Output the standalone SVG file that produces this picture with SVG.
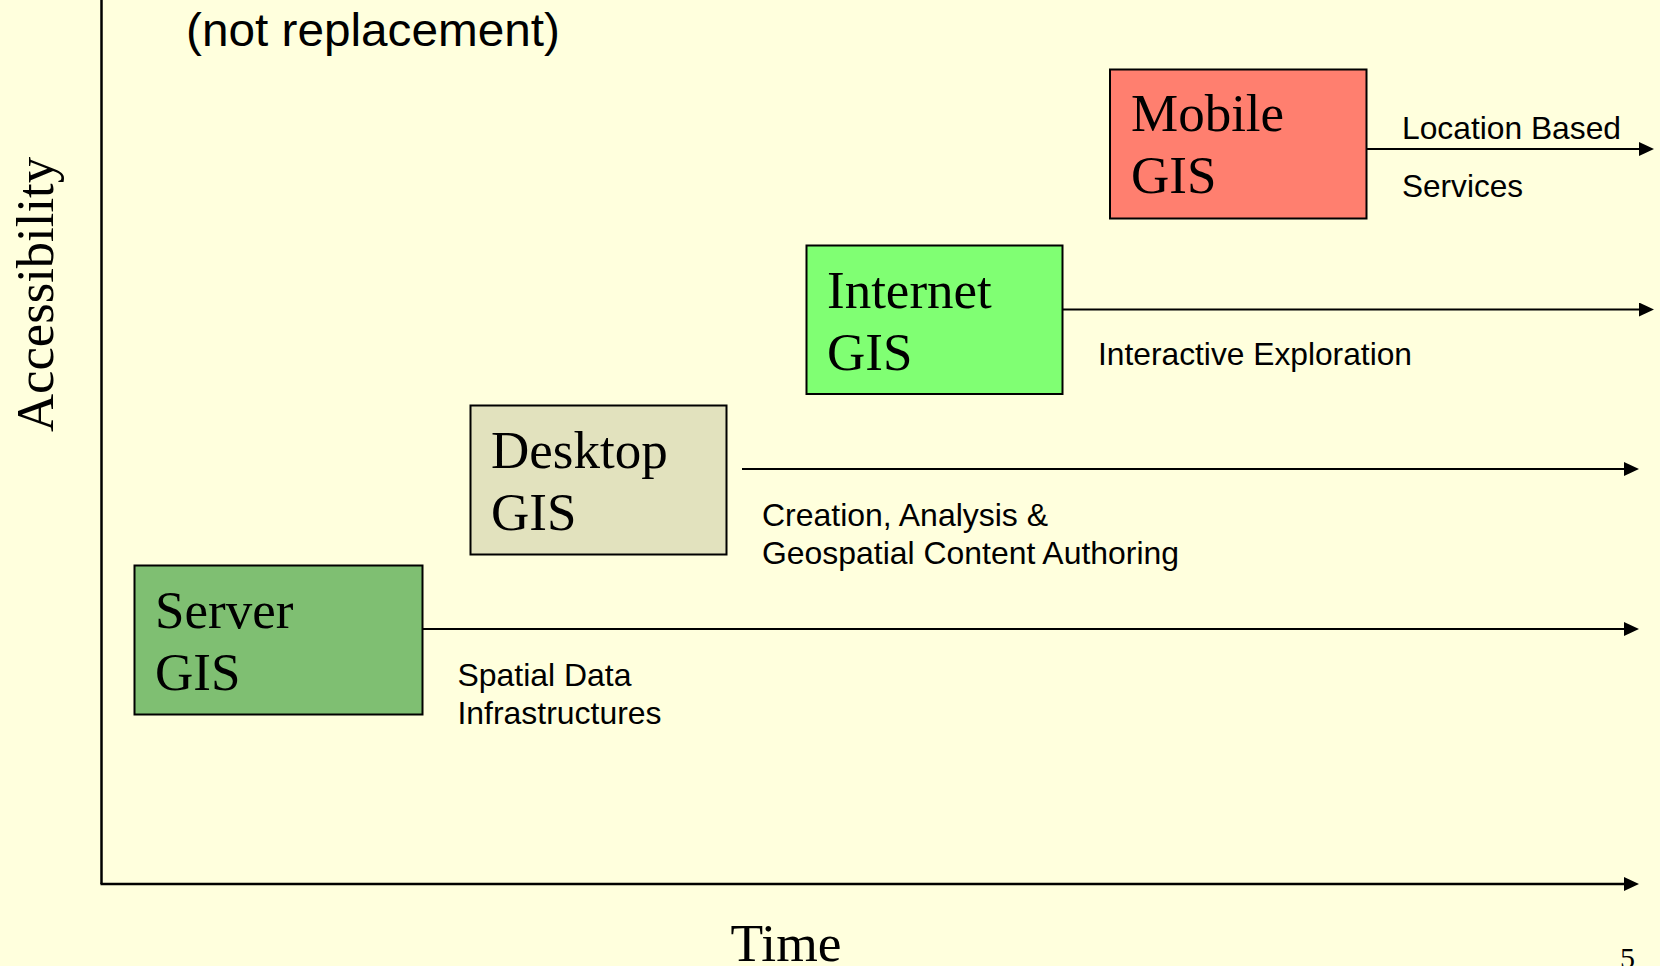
<svg xmlns="http://www.w3.org/2000/svg" width="1660" height="966" viewBox="0 0 1660 966">
  <style>
    .bg { fill: #FFFFDD; }
    .box { stroke: #000000; stroke-width: 2; }
    .title { font-family: "Times New Roman", "Liberation Serif", serif; font-size: 53px; fill: #000000; }
    .note { font-family: Arial, "Liberation Sans", sans-serif; font-size: 32px; fill: #000000; }
    .axis { stroke: #000000; stroke-width: 2.5; fill: none; }
    .flow { stroke: #000000; stroke-width: 2; fill: none; }
  </style>
  <defs>
    <marker id="head" markerUnits="userSpaceOnUse" markerWidth="16" markerHeight="14" refX="5" refY="7" orient="auto">
      <path d="M0,0 L15,7 L0,14 Z" fill="#000000"/>
    </marker>
  </defs>

  <rect class="bg" x="0" y="0" width="1660" height="966"/>

  <!-- heading fragment -->
  <text class="note" x="186" y="46" style="font-size:46px" textLength="374" lengthAdjust="spacingAndGlyphs">(not replacement)</text>

  <!-- axes -->
  <g id="axes">
    <line class="axis" x1="101.5" y1="0" x2="101.5" y2="884"/>
    <line class="axis" x1="100.5" y1="884" x2="1629" y2="884" marker-end="url(#head)"/>
    <text class="title" transform="translate(53,294.5) rotate(-90)" text-anchor="middle" textLength="275" lengthAdjust="spacingAndGlyphs">Accessibility</text>
    <text class="title" x="730.5" y="961" textLength="111" lengthAdjust="spacingAndGlyphs">Time</text>
    <text x="1620" y="968" style="font-family:'Times New Roman','Liberation Serif',serif;font-size:30px;fill:#000000">5</text>
  </g>

  <!-- timeline connectors -->
  <g id="connectors">
    <line class="flow" x1="1366.5" y1="149" x2="1644" y2="149" marker-end="url(#head)"/>
    <line class="flow" x1="1062.5" y1="309.5" x2="1644" y2="309.5" marker-end="url(#head)"/>
    <line class="flow" x1="742" y1="469" x2="1629" y2="469" marker-end="url(#head)"/>
    <line class="flow" x1="422.5" y1="629" x2="1629" y2="629" marker-end="url(#head)"/>
  </g>

  <!-- connector captions -->
  <g id="captions">
    <text class="note" x="1402" y="138.5" textLength="219" lengthAdjust="spacingAndGlyphs">Location Based</text>
    <text class="note" x="1402" y="197" textLength="121" lengthAdjust="spacingAndGlyphs">Services</text>
    <text class="note" x="1098" y="365" textLength="314" lengthAdjust="spacingAndGlyphs">Interactive Exploration</text>
    <text class="note" x="762" y="526" textLength="286" lengthAdjust="spacingAndGlyphs">Creation, Analysis &amp;</text>
    <text class="note" x="762" y="564" textLength="417" lengthAdjust="spacingAndGlyphs">Geospatial Content Authoring</text>
    <text class="note" x="457.5" y="686" textLength="174" lengthAdjust="spacingAndGlyphs">Spatial Data</text>
    <text class="note" x="457.5" y="724" textLength="204" lengthAdjust="spacingAndGlyphs">Infrastructures</text>
  </g>

  <!-- platform nodes -->
  <g id="mobile-gis">
    <rect class="box" x="1110" y="69.5" width="256.5" height="149" fill="#FF7F6F"/>
    <text class="title" x="1131" y="131">Mobile</text>
    <text class="title" x="1131" y="193">GIS</text>
  </g>
  <g id="internet-gis">
    <rect class="box" x="806.5" y="245.5" width="256" height="148.5" fill="#80FF73"/>
    <text class="title" x="827" y="307.5">Internet</text>
    <text class="title" x="827" y="369.5">GIS</text>
  </g>
  <g id="desktop-gis">
    <rect class="box" x="470.5" y="405.5" width="256" height="149" fill="#E2E2BE"/>
    <text class="title" x="491" y="467.5">Desktop</text>
    <text class="title" x="491" y="529.5">GIS</text>
  </g>
  <g id="server-gis">
    <rect class="box" x="134.5" y="565.5" width="288" height="149" fill="#7FBF72"/>
    <text class="title" x="155" y="627.5">Server</text>
    <text class="title" x="155" y="689.5">GIS</text>
  </g>
</svg>
